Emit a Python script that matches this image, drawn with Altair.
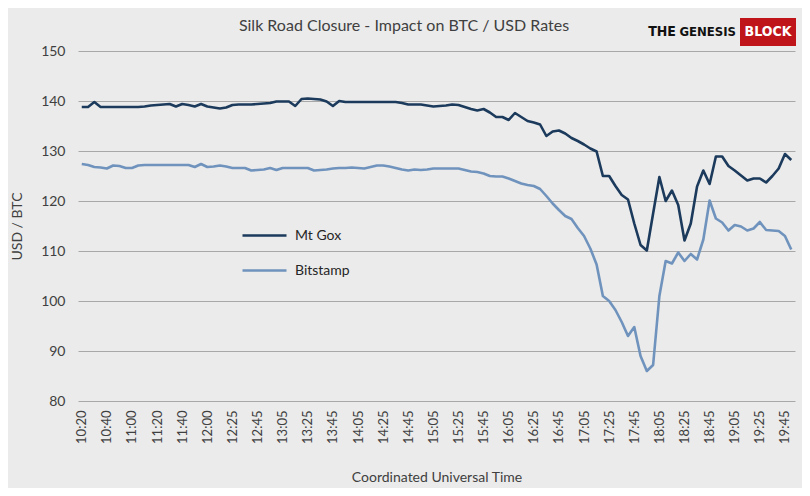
import altair as alt
import pandas as pd

# ---- categories (UTC time of each 5-minute sample; the 12:20 sample is missing in the source) ----
minutes = list(range(620, 721, 5)) + [725, 730, 735] + list(range(745, 1191, 5))
times = [f"{m // 60:02d}:{m % 60:02d}" for m in minutes]

tick_labels = ["10:20", "10:40", "11:00", "11:20", "11:40", "12:00", "12:25", "12:45",
               "13:05", "13:25", "13:45", "14:05", "14:25", "14:45", "15:05", "15:25",
               "15:45", "16:05", "16:25", "16:45", "17:05", "17:25", "17:45", "18:05",
               "18:25", "18:45", "19:05", "19:25", "19:45"]

series_names = ["Mt Gox", "Bitstamp"]
series_colors = ["#1b3a5c", "#6f93bd"]

mtgox = [
    138.8, 138.8, 139.8, 138.8, 138.8, 138.8, 138.8, 138.8, 138.8, 138.8,
    138.9, 139.1, 139.2, 139.3, 139.4, 138.9, 139.4, 139.2, 138.9, 139.4,
    138.9, 138.7, 138.5, 138.7, 139.2, 139.3, 139.3, 139.3, 139.4, 139.5,
    139.6, 139.9, 139.9, 139.9, 139.0, 140.4, 140.5, 140.4, 140.3, 139.9,
    139.0, 140.0, 139.8, 139.8, 139.8, 139.8, 139.8, 139.8, 139.8, 139.8,
    139.8, 139.6, 139.3, 139.3, 139.3, 139.1, 138.9, 139.0, 139.1, 139.3,
    139.2, 138.8, 138.4, 138.1, 138.4, 137.7, 136.8, 136.8, 136.2, 137.6,
    136.8, 136.0, 135.7, 135.3, 133.0, 133.9, 134.1, 133.5, 132.6, 132.0,
    131.3, 130.5, 129.9, 125.0, 125.0, 123.0, 121.2, 120.3, 115.5, 111.2,
    110.1, 117.5, 124.8, 120.0, 122.1, 119.2, 112.1, 115.5, 122.9, 126.1,
    123.4, 128.9, 128.9, 127.0, 126.1, 125.1, 124.1, 124.5, 124.5, 123.7,
    125.0, 126.5, 129.4, 128.2,
]

bitstamp = [
    127.4, 127.2, 126.8, 126.7, 126.5, 127.1, 127.0, 126.6, 126.6, 127.1,
    127.2, 127.2, 127.2, 127.2, 127.2, 127.2, 127.2, 127.2, 126.8, 127.4,
    126.8, 126.9, 127.1, 126.9, 126.6, 126.6, 126.6, 126.1, 126.2, 126.3,
    126.6, 126.2, 126.6, 126.6, 126.6, 126.6, 126.6, 126.1, 126.2, 126.3,
    126.5, 126.6, 126.6, 126.7, 126.6, 126.5, 126.8, 127.1, 127.1, 126.9,
    126.6, 126.3, 126.1, 126.3, 126.2, 126.3, 126.5, 126.5, 126.5, 126.5,
    126.5, 126.2, 125.9, 125.8, 125.5, 125.0, 124.9, 124.9, 124.5, 124.0,
    123.5, 123.2, 123.0, 122.4, 121.0, 119.5, 118.2, 117.0, 116.4, 114.6,
    113.0, 110.5, 107.3, 101.0, 100.0, 98.2, 95.8, 93.0, 94.8, 89.0,
    86.0, 87.2, 101.0, 108.0, 107.5, 109.7, 108.0, 109.4, 108.3, 112.3,
    120.1, 116.5, 115.7, 114.1, 115.2, 114.9, 114.1, 114.5, 115.8, 114.2,
    114.1, 114.0, 113.0, 110.3,
]

y_ticks = [80, 90, 100, 110, 120, 130, 140, 150]

title_text = "Silk Road Closure - Impact on BTC / USD Rates"
logo_words = ["THE", "GENESIS", "BLOCK"]

df = pd.concat([
    pd.DataFrame({"time": times, "exchange": series_names[0], "usd": mtgox}),
    pd.DataFrame({"time": times, "exchange": series_names[1], "usd": bitstamp}),
])

FONT = "Lato"
LOGO_FONT = "DejaVu Sans Condensed, Roboto, sans-serif"

lines = alt.Chart(df).mark_line(strokeWidth=2.6, strokeJoin="round").encode(
    x=alt.X("time:O", sort=times,
            scale=alt.Scale(type="point", padding=0.6),
            axis=alt.Axis(values=tick_labels, labelAngle=-90, labelAlign="right",
                          labelBaseline="middle", labelPadding=9, labelFontSize=13,
                          labelColor="#404040", labelFont=FONT, ticks=False, tickSize=0,
                          domain=False, grid=False, labelOverlap=False,
                          title="Coordinated Universal Time", titleFont=FONT,
                          titleFontSize=14, titleFontWeight="normal", titleColor="#404040",
                          titlePadding=27)),
    y=alt.Y("usd:Q", scale=alt.Scale(domain=[80, 150], nice=False, zero=False),
            axis=alt.Axis(values=y_ticks, ticks=False, tickSize=0, domain=False,
                          labelPadding=13, labelFontSize=14, labelColor="#404040",
                          labelFont=FONT, gridColor="#a8a8a8", gridWidth=1,
                          title="USD / BTC", titleFont=FONT, titleFontSize=14,
                          titleFontWeight="normal", titleColor="#404040", titlePadding=16)),
    color=alt.Color("exchange:N", sort=series_names,
                    scale=alt.Scale(domain=series_names, range=series_colors),
                    legend=alt.Legend(orient="none", legendX=163, legendY=161, title=None,
                                      symbolType="stroke", symbolSize=1936,
                                      symbolStrokeWidth=2.6, labelFontSize=14,
                                      labelFont=FONT, labelColor="#262626",
                                      labelOffset=7, rowPadding=4)),
)

title_df = pd.DataFrame({"t": [title_text]})
title = alt.Chart(title_df).mark_text(
    font=FONT, fontSize=16, color="#404040", align="center", baseline="middle").encode(
    x=alt.value(326), y=alt.value(-25), text="t:N")

logo_df = pd.DataFrame({"word": logo_words})
logo_rect = alt.Chart(logo_df).transform_filter("datum.word == 'BLOCK'").mark_rect(
    color="#c0141b").encode(
    x=alt.value(662), x2=alt.value(718), y=alt.value(-33), y2=alt.value(-5))
logo_the = alt.Chart(logo_df).transform_filter("datum.word == 'THE'").mark_text(
    font=LOGO_FONT, fontWeight="bold", fontSize=14, color="#111111",
    align="center", baseline="middle").encode(
    x=alt.value(584), y=alt.value(-19), text="word:N")
logo_gen = alt.Chart(logo_df).transform_filter("datum.word == 'GENESIS'").mark_text(
    font=LOGO_FONT, fontWeight="bold", fontSize=13, color="#111111",
    align="right", baseline="middle").encode(
    x=alt.value(658), y=alt.value(-19), text="word:N")
logo_block = alt.Chart(logo_df).transform_filter("datum.word == 'BLOCK'").mark_text(
    font=LOGO_FONT, fontWeight="bold", fontSize=14, color="#ffffff",
    align="center", baseline="middle").encode(
    x=alt.value(690), y=alt.value(-19), text="word:N")

chart = alt.layer(lines, title, logo_rect, logo_the, logo_gen, logo_block).properties(
    width=717, height=350,
    padding={"left": 70, "top": 43, "right": 7, "bottom": 87},
    autosize=alt.AutoSizeParams(type="none"),
).configure(background="#ebebeb").configure_view(stroke=None)

chart.save("out.html", embed_options={"renderer": "svg", "actions": False})
